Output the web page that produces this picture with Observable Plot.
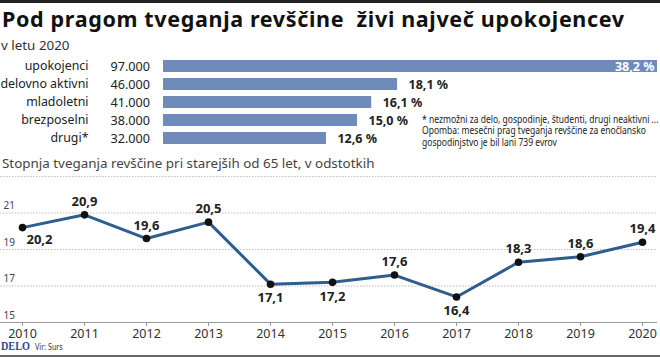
<!DOCTYPE html>
<html>
<head>
<meta charset="utf-8">
<script src="https://cdn.jsdelivr.net/npm/d3@7"></script>
<script src="https://cdn.jsdelivr.net/npm/@observablehq/plot@0.6"></script>
<style>
  html, body { margin: 0; padding: 0; background: #fff; }
  #root { position: relative; width: 660px; height: 357px; overflow: hidden; font-family: "Noto Sans", sans-serif; color: #222; }
  .abs { position: absolute; white-space: pre; }
  #topline { left: 0; top: 0; width: 660px; height: 2.5px; background: #222; }
  #title { left: 2px; top: 4px; font: bold 21.5px "Noto Sans", sans-serif; color: #111; letter-spacing: 0.65px; }
  #sub { left: 1px; top: 36px; font: 13.4px "Noto Sans", sans-serif; color: #333; }
  #linetitle { left: 2px; top: 154px; font: 13.4px "Noto Sans", sans-serif; color: #444; }
  .note { left: 422px; font: 11px "Noto Sans", sans-serif; color: #222; transform: scaleX(0.775); transform-origin: left center; line-height: 11px; }
  #delo { left: 1px; top: 341.2px; font: bold 12px "Liberation Serif", serif; color: #2b4b8c; line-height: 10px; transform: scaleX(0.85); transform-origin: left center; }
  #vir { left: 35px; top: 342px; font: 9px "Noto Sans", sans-serif; color: #333; transform: scaleX(0.8); transform-origin: left center; line-height: 9px; }
  #botline { left: 0; top: 355px; width: 660px; height: 2px; background: #666; }
  #bars, #line { position: absolute; left: 0; }
  #bars { top: 52px; }
  #line { top: 170px; }
</style>
</head>
<body>
<div id="root">
  <div class="abs" id="topline"></div>
  <div class="abs" id="title">Pod pragom tveganja revščine  živi največ upokojencev</div>
  <div class="abs" id="sub">v letu 2020</div>
  <div id="bars"></div>
  <div class="abs note" style="top:112.5px">* nezmožni za delo, gospodinje, študenti, drugi neaktivni ...</div>
  <div class="abs note" style="top:124px">Opomba: mesečni prag tveganja revščine za enočlansko</div>
  <div class="abs note" style="top:135.5px">gospodinjstvo je bil lani 739 evrov</div>
  <div class="abs" id="linetitle">Stopnja tveganja revščine pri starejših od 65 let, v odstotkih</div>
  <div id="line"></div>
  <div class="abs" id="delo">DELO</div>
  <div class="abs" id="vir">Vir: Surs</div>
  <div class="abs" id="botline"></div>
</div>
<script>
// ---- Data: bar chart (2020)
const groups = ["upokojenci", "delovno aktivni", "mladoletni", "brezposelni", "drugi*"];
const counts = ["97.000", "46.000", "41.000", "38.000", "32.000"];
const shares = [38.2, 18.1, 16.1, 15.0, 12.6];

// ---- Data: line chart
const years = [2010, 2011, 2012, 2013, 2014, 2015, 2016, 2017, 2018, 2019, 2020];
const rates = [20.2, 20.9, 19.6, 20.5, 17.1, 17.2, 17.6, 16.4, 18.3, 18.6, 19.4];
const yTicks = [15, 17, 19, 21];
const yGrid = [17, 19, 21, 23];
const labelsBelow = [2010, 2014, 2015, 2017];

const fmt = v => v.toFixed(1).replace(".", ",");
const barColor = "#6e8bba";
const lineColor = "#2e5d8f";

const barData = groups.map((g, i) => ({group: g, count: counts[i], share: shares[i]}));
const maxShare = d3.max(shares);

const barPlot = Plot.plot({
  width: 660,
  height: 106,
  marginLeft: 163,
  marginRight: 3,
  marginTop: 0,
  marginBottom: 6,
  x: {domain: [0, maxShare], axis: null},
  y: {domain: groups, padding: 0.335, axis: null},
  style: {fontFamily: "Noto Sans, sans-serif", background: "transparent", overflow: "visible"},
  marks: [
    Plot.barX(barData, {x: "share", y: "group", fill: barColor}),
    Plot.text(barData, {y: "group", text: "group", frameAnchor: "left", dx: -75, textAnchor: "end", fontSize: 12.4, fill: "#222"}),
    Plot.text(barData, {y: "group", text: "count", frameAnchor: "left", dx: -53, textAnchor: "start", fontSize: 12.6, fill: "#222"}),
    Plot.text(barData.filter(d => d.share === maxShare), {x: "share", y: "group", text: d => fmt(d.share) + " %", textAnchor: "end", dx: -3, fontSize: 12.5, fontWeight: "bold", fill: "#fff"}),
    Plot.text(barData.filter(d => d.share !== maxShare), {x: "share", y: "group", text: d => fmt(d.share) + " %", textAnchor: "start", dx: 11, fontSize: 12.5, fontWeight: "bold", fill: "#222"})
  ]
});
document.getElementById("bars").appendChild(barPlot);

const lineData = years.map((y, i) => ({year: y, rate: rates[i], below: labelsBelow.includes(y)}));

const linePlot = Plot.plot({
  width: 660,
  height: 180,
  marginLeft: 22,
  marginRight: 18,
  marginTop: 6,
  marginBottom: 28,
  x: {domain: [2010, 2020]},
  y: {domain: [15, 23], axis: null},
  style: {fontFamily: "Noto Sans, sans-serif", background: "transparent", overflow: "visible"},
  marks: [
    Plot.ruleY(yGrid, {stroke: "#bdbdbd", strokeDasharray: "1.5,1.5", insetLeft: -22, insetRight: -15}),
    Plot.ruleY([15], {stroke: "#999", strokeWidth: 1.2, insetLeft: -22, insetRight: -15}),
    Plot.text(yTicks, {y: d => d, text: d => String(d), frameAnchor: "left", dx: -19, dy: -7, textAnchor: "start", fontSize: 10, fill: "#444"}),
    Plot.axisX({ticks: years, tickFormat: d => String(d), tickSize: 4, tickPadding: 3, fontSize: 12.5, stroke: "#999", color: "#333", label: null}),
    Plot.line(lineData, {x: "year", y: "rate", stroke: lineColor, strokeWidth: 3}),
    Plot.dot(lineData, {x: "year", y: "rate", r: 3.8, fill: "#111"}),
    Plot.text(lineData.filter(d => !d.below), {x: "year", y: "rate", text: d => fmt(d.rate), dy: -13, fontSize: 13, fontWeight: "bold", fill: "#222"}),
    Plot.text(lineData.filter(d => d.below && d.year !== years[0]), {x: "year", y: "rate", text: d => fmt(d.rate), dy: 14, fontSize: 13, fontWeight: "bold", fill: "#222"}),
    Plot.text(lineData.filter(d => d.year === years[0]), {x: "year", y: "rate", text: d => fmt(d.rate), dx: 4, dy: 12, textAnchor: "start", fontSize: 13, fontWeight: "bold", fill: "#222"})
  ]
});
document.getElementById("line").appendChild(linePlot);
</script>
</body>
</html>
